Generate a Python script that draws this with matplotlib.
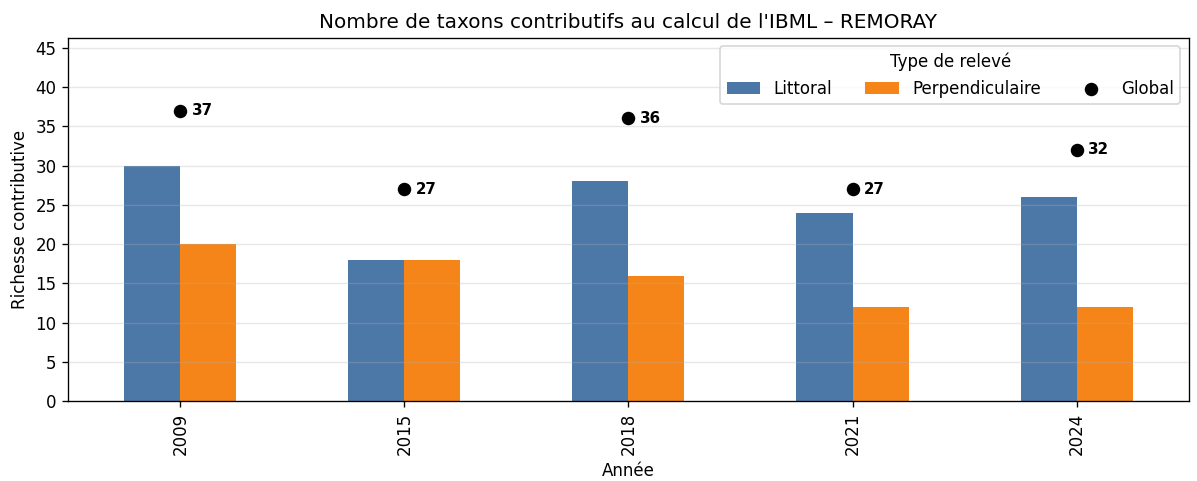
import numpy as np
import pandas as pd
import matplotlib
matplotlib.use("Agg")
import matplotlib.pyplot as plt

# Données
annees = ["2009", "2015", "2018", "2021", "2024"]
littoral = [30, 18, 28, 24, 26]
perpendiculaire = [20, 18, 16, 12, 12]
global_ = [37, 27, 36, 27, 32]

df = pd.DataFrame({"Littoral": littoral, "Perpendiculaire": perpendiculaire}, index=annees)

fig, ax = plt.subplots(figsize=(1197 / 120, 481 / 120), dpi=120)
df.plot(kind="bar", ax=ax, color=["#4c78a8", "#f58518"])

x = np.arange(len(annees))
ax.scatter(x, global_, color="black", s=50, zorder=5, label="Global")
for xi, g in zip(x, global_):
    ax.text(xi + 0.05, g, str(g), fontsize=9, fontweight="bold", va="center", ha="left")

ax.set_ylim(0, max(global_) * 1.25)
ax.set_yticks(np.arange(0, 46, 5))
ax.set_title("Nombre de taxons contributifs au calcul de l'IBML – REMORAY", fontsize=12)
ax.set_xlabel("Année")
ax.set_ylabel("Richesse contributive")
ax.set_axisbelow(False)
ax.grid(axis="y", alpha=0.3, zorder=3)

handles, labels = ax.get_legend_handles_labels()
order = [labels.index("Littoral"), labels.index("Perpendiculaire"), labels.index("Global")]
ax.legend([handles[i] for i in order], [labels[i] for i in order],
          title="Type de relevé", ncol=3, loc="upper right")

fig.subplots_adjust(left=0.057, right=0.993, top=0.921, bottom=0.166)
fig.savefig("out.png")
